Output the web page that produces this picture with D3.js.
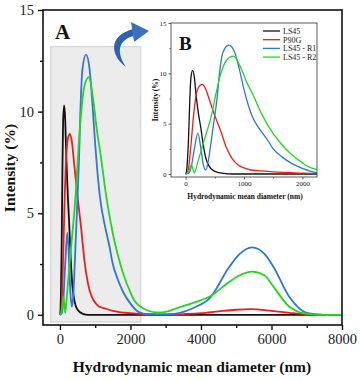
<!DOCTYPE html>
<html>
<head>
<meta charset="utf-8">
<script src="https://cdn.jsdelivr.net/npm/d3@7"></script>
<style>
    body { margin: 0; background: #fff; }
    svg { display: block; }
    .tick text { font-family: 'Liberation Serif', 'Times New Roman', serif; fill: #222; }
</style>
</head>
<body>
<div id="chart"></div>
<script>
// series names and colours
const seriesNames = ['LS45', 'P90G', 'LS45 - R1', 'LS45 - R2'];
const seriesColors = ['#111111', '#f01c1c', '#3076d8', '#22d622'];

// LS45 (black)
const ls45D = [0, 15, 30, 50, 70, 90, 120, 150, 180, 220, 260, 300, 350, 400, 500, 650, 800, 2000, 8000];
const ls45I = [0, 0.2, 1.2, 3.5, 7.0, 9.5, 10.3, 9.6, 7.8, 6.0, 4.6, 3.0, 1.5, 0.8, 0.25, 0.05, 0, 0, 0];

// P90G (red)
const p90gD = [0, 20, 46, 92, 138, 180, 230, 285, 340, 400, 500, 600, 700, 800, 900, 1000, 1100, 1300, 1500, 2000, 2500, 3000, 3500, 4000, 4500, 5000, 5400, 6000, 6500, 7000, 7500, 8000];
const p90gI = [0, 0.05, 0.4, 2.9, 5.9, 7.8, 8.7, 8.9, 8.5, 7.5, 5.8, 4.3, 2.6, 1.5, 0.9, 0.6, 0.42, 0.3, 0.2, 0.08, 0.03, 0.02, 0.04, 0.08, 0.17, 0.25, 0.28, 0.2, 0.1, 0.02, 0, 0];

// LS45 - R1 (blue)
const r1D = [0, 60, 100, 150, 210, 260, 300, 340, 380, 420, 480, 540, 580, 640, 740, 840, 925, 1000, 1050, 1150, 1250, 1400, 1500, 1650, 1800, 2000, 2250, 2500, 3000, 3400, 3800, 4250, 4800, 5100, 5450, 5800, 6050, 6500, 7000, 7500, 8000];
const r1I = [0, 0.1, 0.8, 2.5, 4.05, 2.6, 1.0, 0.4, 1.0, 2.5, 5.0, 7.6, 10.0, 12.1, 12.8, 12.1, 10.3, 8.4, 7.3, 5.6, 4.6, 3.4, 2.5, 1.7, 1.1, 0.55, 0.12, 0.03, 0.02, 0.1, 0.35, 0.82, 2.35, 3.0, 3.32, 3.0, 2.38, 0.9, 0.1, 0, 0];

// LS45 - R2 (green)
const r2D = [0, 50, 100, 150, 200, 260, 320, 380, 450, 520, 600, 700, 820, 950, 1040, 1160, 1300, 1500, 1650, 1800, 2000, 2100, 2250, 2500, 2750, 3000, 3400, 3800, 4250, 4800, 5100, 5450, 5800, 6050, 6500, 7000, 7500, 8000];
const r2I = [0, 0.2, 0.9, 0.1, 1.0, 2.2, 3.4, 4.5, 6.0, 8.0, 9.9, 11.3, 11.7, 10.5, 9.2, 7.8, 6.0, 4.0, 2.9, 2.0, 1.1, 0.73, 0.45, 0.2, 0.12, 0.15, 0.38, 0.6, 0.9, 1.62, 1.95, 2.13, 1.95, 1.4, 0.41, 0.05, 0, 0];

// axis ticks
const mainXTicks = [0, 2000, 4000, 6000, 8000];
const mainXMinor = [1000, 3000, 5000, 7000];
const mainYTicks = [0, 5, 10, 15];
const mainYMinor = [2.5, 7.5, 12.5];
const insetXTicks = [0, 1000, 2000];
const insetXMinor = [500, 1500];
const insetYTicks = [0, 5, 10, 15];
const insetYMinor = [2.5, 7.5, 12.5];

const xLabel = 'Hydrodynamic mean diameter (nm)';
const yLabel = 'Intensity (%)';

const series = [
    { d: ls45D, v: ls45I },
    { d: p90gD, v: p90gI },
    { d: r1D, v: r1I },
    { d: r2D, v: r2I }
].map((s, i) => ({
    name: seriesNames[i],
    color: seriesColors[i],
    points: s.d.map((d, j) => [d, s.v[j]])
}));

const width = 360;
const height = 381;
const serif = "'Liberation Serif', 'Times New Roman', serif";

const svg = d3.select('#chart').append('svg')
    .attr('width', width)
    .attr('height', height);

// ---- main panel ----
const x = d3.scaleLinear().domain([-480, 8000]).range([43, 342]);
const y = d3.scaleLinear().domain([-0.5, 15]).range([325, 10]);

svg.append('clipPath').attr('id', 'mainClip')
    .append('rect')
    .attr('x', 43).attr('y', 10).attr('width', 299).attr('height', 315);

// grey highlight of the zoomed region
svg.append('rect')
    .attr('x', x(-260)).attr('y', y(13.2))
    .attr('width', x(2290) - x(-260))
    .attr('height', y(-0.35) - y(13.2))
    .attr('fill', '#ececec')
    .attr('stroke', '#d9d9d9')
    .attr('stroke-width', 1.5);

const mainLine = d3.line()
    .x(d => x(d[0]))
    .y(d => y(d[1]))
    .curve(d3.curveMonotoneX);

svg.append('g')
    .attr('clip-path', 'url(#mainClip)')
    .selectAll('path')
    .data(series)
    .enter().append('path')
    .attr('d', d => mainLine(d.points))
    .attr('fill', 'none')
    .attr('stroke', d => d.color)
    .attr('stroke-width', 1.8);

// frame
svg.append('rect')
    .attr('x', 43).attr('y', 10).attr('width', 299).attr('height', 315)
    .attr('fill', 'none')
    .attr('stroke', '#111')
    .attr('stroke-width', 1.6);

const xAxis = svg.append('g')
    .attr('transform', 'translate(0,325)')
    .call(d3.axisBottom(x).tickValues(mainXTicks).tickSize(5).tickPadding(4).tickFormat(d3.format('d')));
const yAxis = svg.append('g')
    .attr('transform', 'translate(43,0)')
    .call(d3.axisLeft(y).tickValues(mainYTicks).tickSize(5).tickPadding(4));
[xAxis, yAxis].forEach(g => {
    g.select('.domain').remove();
    g.selectAll('.tick line').attr('stroke', '#111').attr('stroke-width', 1.4);
    g.selectAll('.tick text').attr('font-size', 14.5);
});
svg.append('g')
    .attr('transform', 'translate(0,325)')
    .call(d3.axisBottom(x).tickValues(mainXMinor).tickSize(3).tickFormat(''))
    .call(g => g.select('.domain').remove())
    .selectAll('line').attr('stroke', '#111').attr('stroke-width', 1.4);
svg.append('g')
    .attr('transform', 'translate(43,0)')
    .call(d3.axisLeft(y).tickValues(mainYMinor).tickSize(3).tickFormat(''))
    .call(g => g.select('.domain').remove())
    .selectAll('line').attr('stroke', '#111').attr('stroke-width', 1.4);

svg.append('text')
    .attr('x', 192).attr('y', 372)
    .attr('text-anchor', 'middle')
    .attr('font-family', serif)
    .attr('font-weight', 'bold')
    .attr('font-size', 15.5)
    .attr('fill', '#111')
    .text(xLabel);

svg.append('text')
    .attr('transform', 'translate(15,168) rotate(-90)')
    .attr('text-anchor', 'middle')
    .attr('font-family', serif)
    .attr('font-weight', 'bold')
    .attr('font-size', 15.5)
    .attr('fill', '#111')
    .text(yLabel);

svg.append('text')
    .attr('x', 55).attr('y', 39)
    .attr('font-family', serif)
    .attr('font-weight', 'bold')
    .attr('font-size', 21)
    .attr('fill', '#111')
    .text('A');

// curved arrow pointing to the inset
svg.append('path')
    .attr('d', 'M126,67 C110,55 108,36 133,29 L134,36 C118,40 116,52 126,67 Z')
    .attr('fill', '#2f62ad');
svg.append('path')
    .attr('d', 'M131,22 L149,31 L134,42 Z')
    .attr('fill', '#3a70bd');

// ---- inset panel ----
const ix = d3.scaleLinear().domain([-250, 2250]).range([171, 317]);
const iy = d3.scaleLinear().domain([-0.3, 15]).range([177, 23]);

svg.append('clipPath').attr('id', 'insetClip')
    .append('rect')
    .attr('x', 171).attr('y', 23).attr('width', 146).attr('height', 154);

svg.append('rect')
    .attr('x', 171).attr('y', 23).attr('width', 146).attr('height', 154)
    .attr('fill', '#fff');

const insetLine = d3.line()
    .x(d => ix(d[0]))
    .y(d => iy(d[1]))
    .curve(d3.curveMonotoneX);

svg.append('g')
    .attr('clip-path', 'url(#insetClip)')
    .selectAll('path')
    .data(series)
    .enter().append('path')
    .attr('d', d => insetLine(d.points))
    .attr('fill', 'none')
    .attr('stroke', d => d.color)
    .attr('stroke-width', 1.3);

svg.append('rect')
    .attr('x', 171).attr('y', 23).attr('width', 146).attr('height', 154)
    .attr('fill', 'none')
    .attr('stroke', '#333')
    .attr('stroke-width', 0.8);

const ixAxis = svg.append('g')
    .attr('transform', 'translate(0,177)')
    .call(d3.axisBottom(ix).tickValues(insetXTicks).tickSize(2.5).tickPadding(2).tickFormat(d3.format('d')));
const iyAxis = svg.append('g')
    .attr('transform', 'translate(171,0)')
    .call(d3.axisLeft(iy).tickValues(insetYTicks).tickSize(2.5).tickPadding(2));
[ixAxis, iyAxis].forEach(g => {
    g.select('.domain').remove();
    g.selectAll('.tick line').attr('stroke', '#333').attr('stroke-width', 0.8);
    g.selectAll('.tick text').attr('font-size', 7);
});
svg.append('g')
    .attr('transform', 'translate(0,177)')
    .call(d3.axisBottom(ix).tickValues(insetXMinor).tickSize(1.5).tickFormat(''))
    .call(g => g.select('.domain').remove())
    .selectAll('line').attr('stroke', '#333').attr('stroke-width', 0.8);
svg.append('g')
    .attr('transform', 'translate(171,0)')
    .call(d3.axisLeft(iy).tickValues(insetYMinor).tickSize(1.5).tickFormat(''))
    .call(g => g.select('.domain').remove())
    .selectAll('line').attr('stroke', '#333').attr('stroke-width', 0.8);

svg.append('text')
    .attr('x', 245).attr('y', 199)
    .attr('text-anchor', 'middle')
    .attr('font-family', serif)
    .attr('font-weight', 'bold')
    .attr('font-size', 7.5)
    .attr('fill', '#111')
    .text(xLabel);

svg.append('text')
    .attr('transform', 'translate(158,100) rotate(-90)')
    .attr('text-anchor', 'middle')
    .attr('font-family', serif)
    .attr('font-weight', 'bold')
    .attr('font-size', 7.5)
    .attr('fill', '#111')
    .text(yLabel);

svg.append('text')
    .attr('x', 179).attr('y', 50)
    .attr('font-family', serif)
    .attr('font-weight', 'bold')
    .attr('font-size', 19)
    .attr('fill', '#111')
    .text('B');

// legend
const legend = svg.append('g')
    .selectAll('g')
    .data(series)
    .enter().append('g')
    .attr('transform', (d, i) => `translate(263,${31 + i * 8.7})`);
legend.append('line')
    .attr('x1', 0).attr('x2', 17)
    .attr('stroke', d => d.color)
    .attr('stroke-width', 1.3);
legend.append('text')
    .attr('x', 20).attr('y', 2.8)
    .attr('font-family', serif)
    .attr('font-size', 8)
    .attr('fill', '#222')
    .text(d => d.name);
</script>
</body>
</html>
